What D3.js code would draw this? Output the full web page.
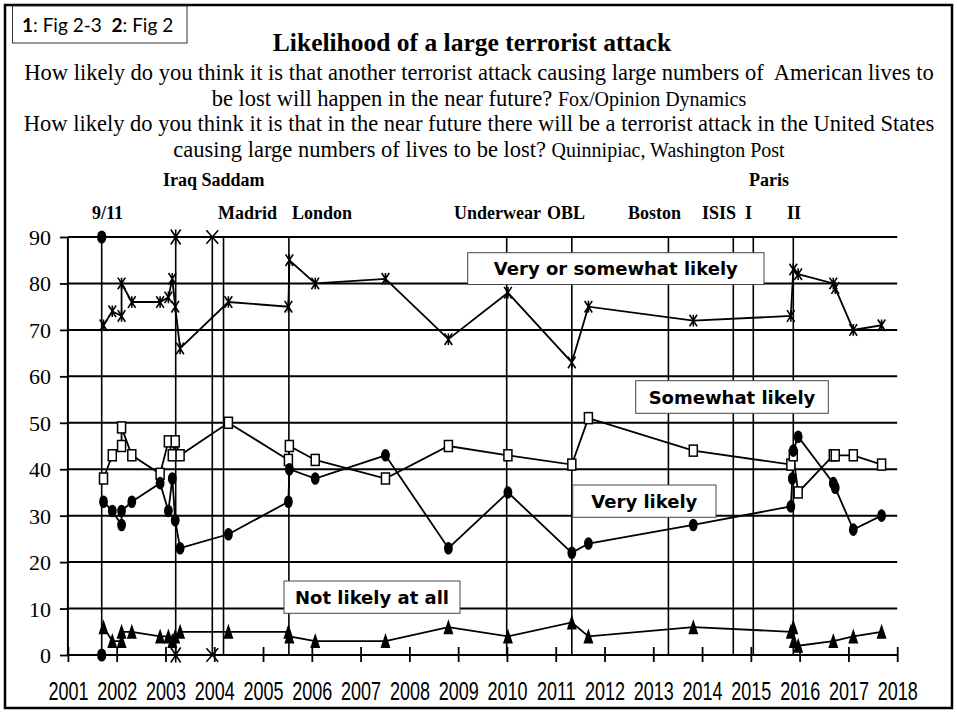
<!DOCTYPE html>
<html><head><meta charset="utf-8">
<script src="https://cdn.jsdelivr.net/npm/d3@7/dist/d3.min.js"></script>
<style>body{margin:0;background:#fff} svg{display:block}</style>
</head><body>
<svg id="c" width="957" height="721"></svg>
<script>
// ---------------- data ----------------
const yearTicks = [2001,2002,2003,2004,2005,2006,2007,2008,2009,2010,2011,2012,2013,2014,2015,2016,2017,2018];
const valueTicks = [0,10,20,30,40,50,60,70,80,90];

// Very or somewhat likely (asterisk)
const vsDates  = [2001.73,2001.91,2002.10,2002.10,2002.31,2002.89,2003.06,2003.14,2003.20,2003.30,2004.29,2005.52,2005.54,2006.07,2007.51,2008.80,2010.02,2011.33,2011.67,2013.82,2015.82,2015.87,2015.97,2016.69,2016.73,2017.10,2017.68];
const vsValues = [71,74,73,80,76,76,77,81,75,66,76,75,85,80,81,68,78,63,75,72,73,83,82,80,79,70,71];

// Somewhat likely (open square)
const sDates  = [2001.73,2001.91,2002.10,2002.10,2002.31,2002.89,2003.06,2003.14,2003.20,2003.30,2004.29,2005.52,2005.54,2006.07,2007.51,2008.80,2010.02,2011.33,2011.67,2013.82,2015.82,2015.87,2015.97,2016.69,2016.73,2017.10,2017.68];
const sValues = [38,43,45,49,43,39,46,43,46,43,50,42,45,42,38,45,43,41,51,44,41,43,35,43,43,43,41];

// Very likely (filled circle)
const vDates  = [2001.73,2001.91,2002.10,2002.10,2002.31,2002.89,2003.06,2003.14,2003.20,2003.30,2004.29,2005.52,2005.54,2006.07,2007.51,2008.80,2010.02,2011.33,2011.67,2013.82,2015.82,2015.85,2015.87,2015.97,2016.69,2016.73,2017.10,2017.68];
const vValues = [33,31,28,31,33,37,31,38,29,23,26,33,40,38,43,23,35,22,24,28,32,38,44,47,37,36,27,30];

// Not likely at all (filled triangle)
const nDates  = [2001.73,2001.91,2002.10,2002.10,2002.31,2002.89,2003.06,2003.14,2003.20,2003.30,2004.29,2005.52,2005.54,2006.07,2007.51,2008.80,2010.02,2011.33,2011.67,2013.82,2015.82,2015.87,2015.88,2015.97,2016.69,2017.10,2017.68];
const nValues = [6,3,3,5,5,4,4,3,4,5,5,5,4,3,3,6,4,7,4,6,5,6,3,2,3,4,5];

// Event lines
const eventDates   = [2001.693,2003.21,2003.96,2004.19,2005.53,2009.995,2011.33,2013.31,2014.64,2015.05,2015.87];
const eventMarkers = ["circle","asterisk","x",null,null,null,null,null,null,null,null];
const eventLow = 0, eventHigh = 90;

// Event labels
const eventLabels = [
  {t:"Iraq Saddam", x:163, row:0},
  {t:"9/11", x:92, row:1},
  {t:"Madrid", x:218, row:1},
  {t:"London", x:292, row:1},
  {t:"Underwear", x:454, row:1},
  {t:"OBL", x:547, row:1},
  {t:"Boston", x:628, row:1},
  {t:"ISIS", x:702, row:1},
  {t:"I", x:745, row:1},
  {t:"Paris", x:749, row:0},
  {t:"II", x:787, row:1}
];

const seriesLabels = [
  {t:"Very or somewhat likely", x0:467.7, x1:764, y0:252.7, y1:284.5},
  {t:"Somewhat likely", x0:635.7, x1:828.3, y0:380.7, y1:413.3},
  {t:"Very likely", x0:572.7, x1:716, y0:485, y1:517.3},
  {t:"Not likely at all", x0:284, x1:460, y0:581, y1:613.3}
];

// ---------------- drawing ----------------
const svg = d3.select("#c");
const x = d3.scaleLinear().domain([2001, 2018]).range([67.9, 897.2]);
const y = d3.scaleLinear().domain([0, 90]).range([655, 237]);

svg.append("rect").attr("width",957).attr("height",721).attr("fill","#fff");
// outer frame
svg.append("rect").attr("x",5).attr("y",5).attr("width",947).attr("height",703)
  .attr("fill","none").attr("stroke","#000").attr("stroke-width",2.5);

// top-left note box
svg.append("rect").attr("x",12.5).attr("y",6).attr("width",174.5).attr("height",37)
  .attr("fill","#fff").attr("stroke","#333").attr("stroke-width",1);
const note = svg.append("text").attr("x",22).attr("y",32)
  .attr("font-family","Lato, 'Open Sans', sans-serif").attr("font-size",19).attr("fill","#000");
note.append("tspan").attr("font-weight","bold").text("1");
note.append("tspan").text(": Fig 2-3\u00A0\u00A0");
note.append("tspan").attr("font-weight","bold").text("2");
note.append("tspan").text(": Fig 2");

// title
const serif = "'Liberation Serif','Times New Roman',Times,serif";
svg.append("text").attr("x",472).attr("y",51).attr("text-anchor","middle")
  .attr("font-family",serif).attr("font-weight","bold").attr("font-size",25.5)
  .text("Likelihood of a large terrorist attack");

const sub = [
  {y:80, main:"How likely do you think it is that another terrorist attack causing large numbers of\u00A0 American lives to", src:""},
  {y:106, main:"be lost will happen in the near future? ", src:"Fox/Opinion Dynamics"},
  {y:131, main:"How likely do you think it is that in the near future there will be a terrorist attack in the United States", src:""},
  {y:157, main:"causing large numbers of lives to be lost? ", src:"Quinnipiac, Washington Post"}
];
sub.forEach(s => {
  const t = svg.append("text").attr("x",479).attr("y",s.y).attr("text-anchor","middle")
    .attr("font-family",serif).attr("font-size",22.5);
  t.append("tspan").text(s.main);
  if (s.src) t.append("tspan").attr("font-size",20).text(s.src);
});

// event labels
eventLabels.forEach(e => {
  svg.append("text").attr("x",e.x).attr("y", e.row===0 ? 186 : 219)
    .attr("font-family",serif).attr("font-weight","bold").attr("font-size",18)
    .text(e.t);
});

// gridlines
svg.append("g").selectAll("line").data(valueTicks.filter(d=>d>0)).join("line")
  .attr("x1",x(2001)).attr("x2",x(2018)).attr("y1",d=>y(d)).attr("y2",d=>y(d))
  .attr("stroke","#000").attr("stroke-width",2);

// event vertical lines
svg.append("g").selectAll("line").data(eventDates).join("line")
  .attr("x1",d=>x(d)).attr("x2",d=>x(d)).attr("y1",y(eventLow)).attr("y2",y(eventHigh))
  .attr("stroke","#000").attr("stroke-width",1.6);

// axes
const xAxis = svg.append("g").attr("transform",`translate(0,${y(0)})`)
  .call(d3.axisBottom(x).tickValues(yearTicks).tickFormat(d3.format("d")).tickSize(7).tickPadding(20));
xAxis.select(".domain").attr("d",`M${x(2001)},0H${x(2018)}`).attr("stroke-width",2);
xAxis.selectAll(".tick line").attr("y1",-8).attr("y2",7).attr("stroke-width",1.8);
xAxis.selectAll(".tick text").attr("font-family","'Liberation Sans',Arial,sans-serif")
  .attr("font-size",25).attr("fill","#000").attr("dy",0).attr("y",45)
  .attr("transform","scale(0.72,1)");

const yAxis = svg.append("g").attr("transform",`translate(${x(2001)},0)`)
  .call(d3.axisLeft(y).tickValues(valueTicks).tickSize(8).tickPadding(10));
yAxis.select(".domain").attr("d",`M0,${y(0)}V${y(90)}`).attr("stroke-width",2);
yAxis.selectAll(".tick line").attr("stroke-width",1.8);
yAxis.selectAll(".tick text").attr("font-family",serif).attr("font-size",22)
  .attr("fill","#000").attr("x",-17).attr("dy","0.34em");

// series
const line = d3.line().x(d=>x(d[0])).y(d=>y(d[1]));
const zip = (a,b) => a.map((d,i)=>[d,b[i]]);
const series = [
  {data: zip(vsDates, vsValues), m:"asterisk"},
  {data: zip(sDates, sValues), m:"square"},
  {data: zip(vDates, vValues), m:"circle"},
  {data: zip(nDates, nValues), m:"triangle"}
];
series.forEach(s => {
  svg.append("path").datum(s.data).attr("d",line)
    .attr("fill","none").attr("stroke","#000").attr("stroke-width",1.8);
});

function marker(g, type, px, py, big) {
  if (type==="circle") {
    const k = big ? 1.05 : 1;
    g.append("ellipse").attr("cx",px).attr("cy",py).attr("rx",4.4*k).attr("ry",6.3*k).attr("fill","#000");
  } else if (type==="square") {
    g.append("rect").attr("x",px-4).attr("y",py-5.5).attr("width",8).attr("height",11)
      .attr("fill","#fff").attr("stroke","#000").attr("stroke-width",1.5);
  } else if (type==="triangle") {
    g.append("path").attr("d",`M${px},${py-8}L${px+5},${py+7}L${px-5},${py+7}Z`).attr("fill","#000");
  } else if (type==="asterisk") {
    const k = big ? 1.3 : 1;
    const w=3.8*k, h=5.8*k;
    g.append("path").attr("d",`M${px-w},${py-h}L${px+w},${py+h}M${px-w},${py+h}L${px+w},${py-h}M${px},${py-h}L${px},${py+h}`)
      .attr("stroke","#000").attr("stroke-width",1.6).attr("fill","none");
  } else if (type==="x") {
    const w=5.9, h=6.7;
    g.append("path").attr("d",`M${px-w},${py-h}L${px+w},${py+h}M${px-w},${py+h}L${px+w},${py-h}`)
      .attr("stroke","#000").attr("stroke-width",1.6).attr("fill","none");
  }
}
const mg = svg.append("g");
series.forEach(s => s.data.forEach(d => marker(mg, s.m, x(d[0]), y(d[1]), false)));
eventDates.forEach((d,i) => {
  if (eventMarkers[i]) {
    marker(mg, eventMarkers[i], x(d), y(eventHigh), true);
    marker(mg, eventMarkers[i], x(d), y(eventLow), true);
  }
});

// series label boxes
seriesLabels.forEach(l => {
  svg.append("rect").attr("x",l.x0).attr("y",l.y0).attr("width",l.x1-l.x0).attr("height",l.y1-l.y0)
    .attr("fill","#fff").attr("stroke","#444").attr("stroke-width",1);
  svg.append("text").attr("x",(l.x0+l.x1)/2).attr("y",(l.y0+l.y1)/2+6.5).attr("text-anchor","middle")
    .attr("font-family","'DejaVu Sans',sans-serif").attr("font-weight","bold").attr("font-size",18)
    .text(l.t);
});
</script>
</body></html>
